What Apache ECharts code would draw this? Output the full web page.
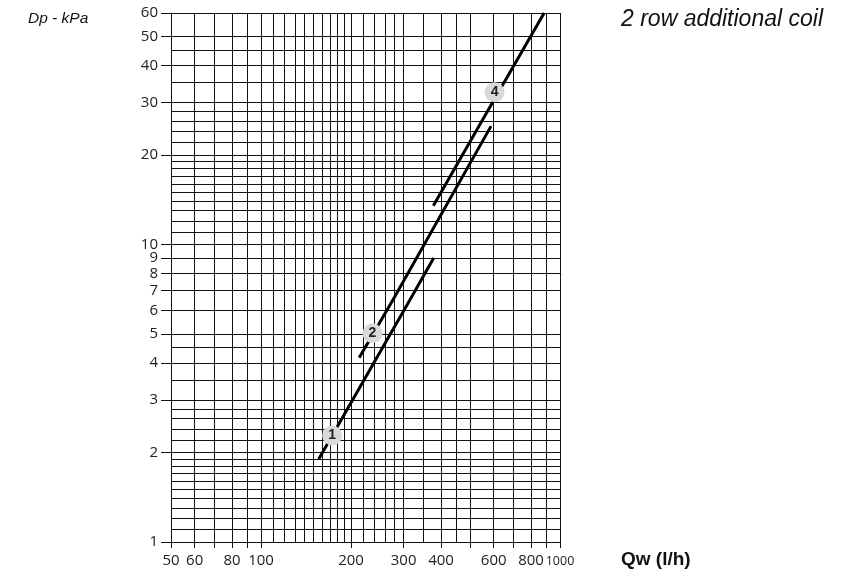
<!DOCTYPE html>
<html>
<head>
<meta charset="utf-8">
<script src="https://cdn.jsdelivr.net/npm/echarts@6/dist/echarts.min.js"></script>
<style>
  html, body { margin: 0; padding: 0; background: #fff; }
  #chart { width: 862px; height: 572px; }
</style>
</head>
<body>
<div id="chart"></div>
<script>
// Water-side pressure drop of the 2 row additional coil, log-log scales.
// Each curve: [flow Qw (l/h), pressure drop Dp (kPa)]
const curve1 = [[156, 1.90], [315, 6.52], [378, 9.0]];
const curve2 = [[213, 4.16], [277, 6.55], [588, 25.0]];
const curve4 = [[377, 13.5], [536, 25.0], [885, 60.0]];

// Curve number badges
const badgeText = ['1', '2', '4'];
const badgeQ = [173, 236, 604];
const badgeDp = [2.28, 5.03, 32.5];

// Chart paper rulings
const xGridValues = [50, 60, 70, 80, 90, 100, 110, 120, 130, 140, 150, 160, 170, 180, 190, 200,
  220, 240, 260, 280, 300, 350, 400, 450, 500, 600, 700, 800, 900, 1000];
const yGridValues = [1, 1.1, 1.2, 1.3, 1.4, 1.5, 1.6, 1.7, 1.8, 1.9, 2, 2.2, 2.4, 2.6, 2.8, 3,
  3.5, 4, 4.5, 5, 6, 7, 8, 9, 10, 11, 12, 13, 14, 15, 16, 17, 18, 19, 20,
  22, 24, 26, 28, 30, 35, 40, 45, 50, 60];

// Ticks and labels
const xTickValues = [50, 60, 70, 80, 90, 100, 200, 300, 400, 500, 600, 700, 800, 900, 1000];
const xLabelValues = [50, 60, 80, 100, 200, 300, 400, 600, 800, 1000];
const yLabelValues = [1, 2, 3, 4, 5, 6, 7, 8, 9, 10, 20, 30, 40, 50, 60];

const INK = '#111';
const LABEL_FONT = '"Open Sans", "DejaVu Sans", sans-serif';
const TITLE_FONT = '"Liberation Sans", Arial, sans-serif';

const chart = echarts.init(document.getElementById('chart'), null, { renderer: 'canvas' });

function curveSeries(name, data) {
  return {
    name: name,
    type: 'line',
    data: data,
    z: 5,
    symbol: 'none',
    silent: true,
    lineStyle: { color: '#000', width: 3, cap: 'butt' }
  };
}

chart.setOption({
  animation: false,
  backgroundColor: '#fff',
  grid: {
    left: 171, right: 302, top: 13, bottom: 30,
    containLabel: false,
    outerBoundsMode: 'none'
  },
  xAxis: {
    type: 'log',
    logBase: 10,
    min: 50,
    max: 1000,
    axisLine: { show: true, lineStyle: { color: INK, width: 1 } },
    axisTick: {
      show: true, inside: false, length: 6,
      customValues: xTickValues,
      lineStyle: { color: INK, width: 1 }
    },
    axisLabel: {
      show: true,
      customValues: xLabelValues,
      margin: 9,
      color: '#222',
      fontFamily: LABEL_FONT,
      fontSize: 15,
      lineHeight: 20,
      formatter: function (v) {
        return v === 1000 ? '{s|1000}' : '{n|' + v + '}';
      },
      rich: {
        n: { fontSize: 15, lineHeight: 20, fontFamily: LABEL_FONT, color: '#222' },
        s: { fontSize: 12.5, lineHeight: 20, fontFamily: LABEL_FONT, color: '#222' }
      }
    },
    splitLine: { show: false },
    minorTick: { show: false },
    minorSplitLine: { show: false }
  },
  yAxis: {
    type: 'log',
    logBase: 10,
    min: 1,
    max: 60,
    axisLine: { show: true, lineStyle: { color: INK, width: 1 } },
    axisTick: {
      show: true, inside: false, length: 10,
      customValues: yLabelValues,
      lineStyle: { color: INK, width: 1 }
    },
    axisLabel: {
      show: true,
      customValues: yLabelValues,
      margin: 13,
      color: '#222',
      fontFamily: LABEL_FONT,
      fontSize: 15
    },
    splitLine: { show: false },
    minorTick: { show: false },
    minorSplitLine: { show: false }
  },
  graphic: [
    {
      type: 'text', left: 28, top: 11,
      style: { text: 'Dp - kPa', fontFamily: TITLE_FONT, fontStyle: 'italic', fontSize: 15.5, fill: INK }
    },
    {
      type: 'text', left: 621, top: 8,
      style: { text: '2 row additional coil', fontFamily: TITLE_FONT, fontStyle: 'italic', fontSize: 23, fill: INK }
    },
    {
      type: 'text', left: 621, top: 550,
      style: { text: 'Qw (l/h)', fontFamily: TITLE_FONT, fontWeight: 'bold', fontSize: 19, fill: INK }
    }
  ],
  series: [
    {
      name: 'rulings',
      type: 'line',
      data: [],
      z: 1,
      silent: true,
      markLine: {
        silent: true,
        animation: false,
        symbol: ['none', 'none'],
        label: { show: false },
        emphasis: { disabled: true },
        lineStyle: { color: '#111', width: 1, type: 'solid', opacity: 1 },
        data: xGridValues.map(v => ({ xAxis: v })).concat(yGridValues.map(v => ({ yAxis: v })))
      }
    },
    curveSeries('1', curve1),
    curveSeries('2', curve2),
    curveSeries('4', curve4),
    {
      name: 'badges',
      type: 'scatter',
      z: 10,
      silent: true,
      symbol: 'circle',
      symbolSize: 20,
      itemStyle: { color: '#d9d9d9', opacity: 1 },
      label: {
        show: true,
        position: 'inside',
        formatter: p => badgeText[p.dataIndex],
        color: '#222',
        fontFamily: TITLE_FONT,
        fontWeight: 'bold',
        fontSize: 14
      },
      data: badgeQ.map((q, i) => [q, badgeDp[i]])
    }
  ]
});
</script>
</body>
</html>
